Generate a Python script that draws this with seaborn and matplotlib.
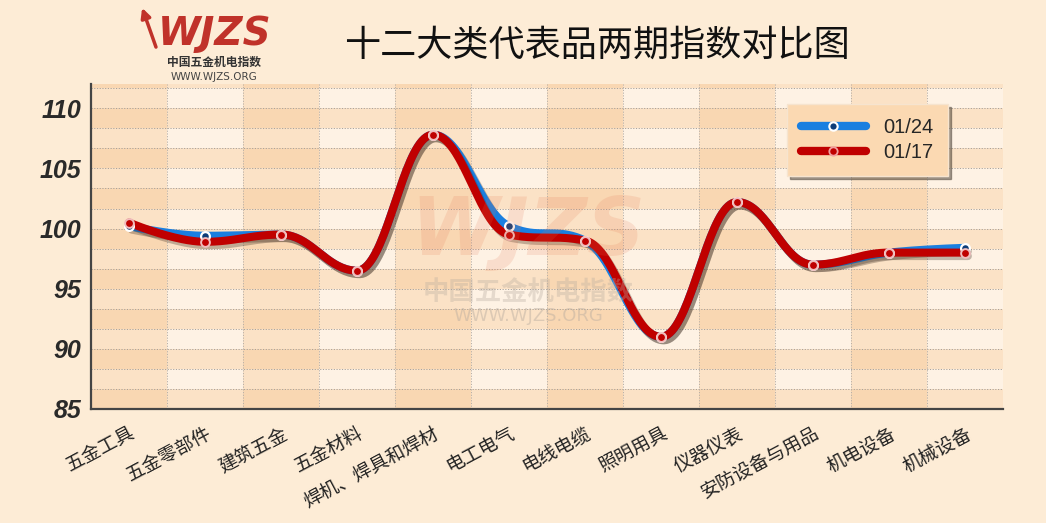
import numpy as np
import pandas as pd
import matplotlib
matplotlib.use("Agg")
import matplotlib.pyplot as plt
import matplotlib.patheffects as pe
from matplotlib.lines import Line2D
import seaborn as sns

# data
categories = ["五金工具", "五金零部件", "建筑五金", "五金材料", "焊机、焊具和焊材", "电工电气",
              "电线电缆", "照明用具", "仪器仪表", "安防设备与用品", "机电设备", "机械设备"]
idx_0124 = [100.2, 99.4, 99.5, 96.5, 107.8, 100.2, 99.0, 91.0, 102.2, 97.0, 98.0, 98.4]
idx_0117 = [100.5, 98.9, 99.5, 96.5, 107.8, 99.5, 99.0, 91.0, 102.2, 97.0, 98.0, 98.0]
series_names = ["01/24", "01/17"]

sns.set_style("white")
plt.rcParams['font.family'] = ['Noto Sans CJK SC', 'DejaVu Sans']


def spline(xs, ys, steps=40):
    # highcharts-like spline through the points (control points from neighbours)
    n = len(xs)
    lc = [(xs[i], ys[i]) for i in range(n)]
    rc = [(xs[i], ys[i]) for i in range(n)]
    sm, den = 1.5, 2.5
    for i in range(1, n - 1):
        x, y = xs[i], ys[i]
        lx, ly = (sm * x + xs[i - 1]) / den, (sm * y + ys[i - 1]) / den
        rx, ry = (sm * x + xs[i + 1]) / den, (sm * y + ys[i + 1]) / den
        corr = (ry - ly) * (rx - x) / (rx - lx) + y - ry
        ly += corr
        ry += corr
        if ly > ys[i - 1] and ly > y:
            ly = max(ys[i - 1], y); ry = 2 * y - ly
        elif ly < ys[i - 1] and ly < y:
            ly = min(ys[i - 1], y); ry = 2 * y - ly
        if ry > ys[i + 1] and ry > y:
            ry = max(ys[i + 1], y); ly = 2 * y - ry
        elif ry < ys[i + 1] and ry < y:
            ry = min(ys[i + 1], y); ly = 2 * y - ry
        lc[i] = (lx, ly)
        rc[i] = (rx, ry)
    t = np.linspace(0, 1, steps)[:, None]
    out = []
    for i in range(n - 1):
        p0 = np.array([xs[i], ys[i]]); p1 = np.array(rc[i])
        p2 = np.array(lc[i + 1]); p3 = np.array([xs[i + 1], ys[i + 1]])
        seg = (1 - t) ** 3 * p0 + 3 * (1 - t) ** 2 * t * p1 + 3 * (1 - t) * t ** 2 * p2 + t ** 3 * p3
        out.append(seg if i == 0 else seg[1:])
    out = np.vstack(out)
    return out[:, 0], out[:, 1]


fig = plt.figure(figsize=(10.46, 5.23), dpi=100, facecolor="#fdecd6")
ax = fig.add_axes([0.087, 0.218, 0.872, 0.621])
ax.set_facecolor("#fef2e4")

xpos = np.arange(len(categories))
ax.set_xlim(-0.5, len(categories) - 0.5)
ax.set_ylim(85, 112)

# banded background
for i in range(0, len(categories), 2):
    ax.axvspan(i - 0.5, i + 0.5, color="#f7c38a", alpha=0.33, lw=0, zorder=0)
yb = np.arange(85, 112, 5 / 3)
for k, y0 in enumerate(yb):
    if k % 2 == 0:
        ax.axhspan(y0, y0 + 5 / 3, color="#f7c38a", alpha=0.33, lw=0, zorder=0)
for y0 in yb[1:]:
    ax.axhline(y0, color="#a8a29c", lw=0.7, ls=(0, (1.2, 1.6)), zorder=1)
for i in range(len(categories)):
    ax.axvline(i + 0.5, color="#b8b0a8", lw=0.7, ls=(0, (1.2, 1.6)), zorder=1)

# watermark
fig.text(0.505, 0.555, "WJZS", fontsize=58, fontweight="bold", fontstyle="italic",
         color="#e5734f", alpha=0.16, ha="center", va="center", family="DejaVu Sans")
fig.text(0.505, 0.44, "中国五金机电指数", fontsize=19, fontweight="bold", color="#b8aca0",
         alpha=0.35, ha="center", va="center")
fig.text(0.505, 0.395, "WWW.WJZS.ORG", fontsize=13, color="#b8aca0",
         alpha=0.45, ha="center", va="center", family="DejaVu Sans")

shadow = [pe.SimpleLineShadow(offset=(2, -2.5), shadow_color="#3a2a20", alpha=0.3), pe.Normal()]
colors = ["#1a7fe0", "#c00000"]
for vals, col in zip([idx_0124, idx_0117], colors):
    sx, sy = spline(list(xpos), vals)
    ax.plot(sx, sy, color=col, lw=5.8, solid_capstyle="round", zorder=3, path_effects=shadow)

df = pd.DataFrame({"cat": np.tile(xpos, 2), "val": idx_0124 + idx_0117,
                   "series": np.repeat(series_names, len(categories))})
sns.scatterplot(data=df[df.series == "01/24"], x="cat", y="val", ax=ax, s=40,
                color="#0d3c78", edgecolor="white", linewidth=1.6, zorder=4, legend=False)
sns.scatterplot(data=df[df.series == "01/17"], x="cat", y="val", ax=ax, s=40,
                color="#c00000", edgecolor="#f0bcbc", linewidth=1.4, zorder=5, legend=False)

ax.set_xlabel("")
ax.set_ylabel("")
ax.set_yticks([85, 90, 95, 100, 105, 110])
ax.set_yticks(yb, minor=True)
ax.set_yticklabels(["85", "90", "95", "100", "105", "110"], fontsize=18, fontweight="bold",
                   fontstyle="italic", family="Liberation Sans", color="#2a2a2a")
ax.set_xticks(xpos)
ax.set_xticklabels(categories, fontsize=13.5, rotation=28, ha="right", rotation_mode="anchor",
                   color="#222222")
ax.tick_params(axis="y", which="both", direction="inout", length=8, width=1.3, color="#444444",
               pad=3)
ax.tick_params(axis="x", direction="in", length=5, width=1, color="#444444", pad=10)
for s in ["top", "right"]:
    ax.spines[s].set_visible(False)
for s in ["left", "bottom"]:
    ax.spines[s].set_color("#444444")
    ax.spines[s].set_linewidth(1.6)

handles = [Line2D([0], [0], color=colors[0], lw=6, marker="o", markersize=6,
                  markerfacecolor="#0d3c78", markeredgecolor="white", markeredgewidth=1.5,
                  solid_capstyle="round"),
           Line2D([0], [0], color=colors[1], lw=6, marker="o", markersize=6,
                  markerfacecolor="#c00000", markeredgecolor="#f0a0a0", markeredgewidth=1.3,
                  solid_capstyle="round")]
leg = ax.legend(handles, series_names, loc="upper left", bbox_to_anchor=(0.752, 0.97),
                handlelength=3.2, handletextpad=0.9, labelspacing=0.3,
                frameon=True, fancybox=False, shadow=True, borderpad=0.7,
                prop={"family": "Liberation Sans", "size": 14.5})
leg.get_frame().set_facecolor("#fbd9b2")
leg.get_frame().set_edgecolor("#f6e4cf")

# title and logo
fig.text(0.571, 0.912, "十二大类代表品两期指数对比图", fontsize=26, ha="center", va="center",
         color="#111111")
fig.text(0.205, 0.935, "WJZS", fontsize=28, fontweight="bold", fontstyle="italic",
         color="#c0322a", ha="center", va="center", family="DejaVu Sans")
fig.text(0.205, 0.88, "中国五金机电指数", fontsize=8.5, fontweight="bold", color="#333333",
         ha="center", va="center")
fig.text(0.205, 0.853, "WWW.WJZS.ORG", fontsize=7.5, color="#444444", ha="center", va="center",
         family="DejaVu Sans")
fig.patches.append(matplotlib.patches.FancyArrowPatch((0.15, 0.905), (0.135, 0.99),
                   transform=fig.transFigure, arrowstyle="-|>", mutation_scale=14,
                   color="#c0322a", lw=2.5))

fig.savefig("out.png", dpi=100, facecolor=fig.get_facecolor())
